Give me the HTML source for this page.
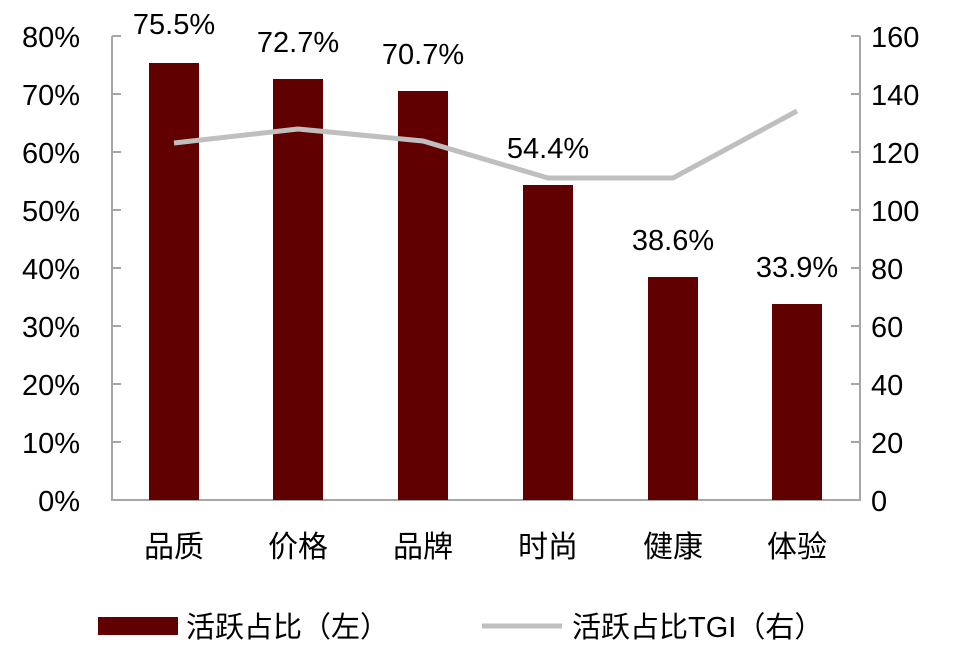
<!DOCTYPE html><html><head><meta charset="utf-8"><style>body{margin:0;background:#fff}</style></head><body>
<svg width="960" height="657" xmlns="http://www.w3.org/2000/svg" style="font-family:'Liberation Sans','Noto Sans CJK SC',sans-serif">
<g stroke="#a6a6a6" stroke-width="2" fill="none">
<path d="M112,36V500H860V36"/>
<path d="M112,36h9M112,94h9M112,152h9M112,210h9M112,268h9M112,326h9M112,384h9M112,442h9"/>
<path d="M860,36h-9M860,94h-9M860,152h-9M860,210h-9M860,268h-9M860,326h-9M860,384h-9M860,442h-9"/>
</g>
<g fill="#600000">
<rect x="149" y="63" width="50" height="437"/>
<rect x="273" y="79" width="50" height="421"/>
<rect x="398" y="91" width="50" height="409"/>
<rect x="523" y="185" width="50" height="315"/>
<rect x="648" y="277" width="50" height="223"/>
<rect x="772" y="304" width="50" height="196"/>
</g>
<polyline points="174,143 298,129 423,141 548,178 673,178 797,111" fill="none" stroke="#bfbfbf" stroke-width="5"/>
<g font-size="29" fill="#000" text-anchor="end">
<text x="80" y="47">80%</text><text x="80" y="105">70%</text><text x="80" y="163">60%</text><text x="80" y="221">50%</text><text x="80" y="279">40%</text><text x="80" y="337">30%</text><text x="80" y="395">20%</text><text x="80" y="453">10%</text><text x="80" y="511">0%</text>
</g>
<g font-size="29" fill="#000" text-anchor="start">
<text x="871" y="47">160</text><text x="871" y="105">140</text><text x="871" y="163">120</text><text x="871" y="221">100</text><text x="871" y="279">80</text><text x="871" y="337">60</text><text x="871" y="395">40</text><text x="871" y="453">20</text><text x="871" y="511">0</text>
</g>
<g font-size="29" fill="#000" text-anchor="middle">
<text x="174" y="34">75.5%</text><text x="298" y="52">72.7%</text><text x="423" y="64">70.7%</text><text x="548" y="158">54.4%</text><text x="673" y="250">38.6%</text><text x="797" y="277">33.9%</text>
</g>
<g font-size="30" fill="#000" text-anchor="middle">
<text x="174" y="557">品质</text><text x="298" y="557">价格</text><text x="423" y="557">品牌</text><text x="548" y="557">时尚</text><text x="673" y="557">健康</text><text x="797" y="557">体验</text>
</g>
<rect x="98" y="617" width="80" height="18" fill="#600000"/>
<text x="186" y="637" font-size="29">活跃占比（左）</text>
<line x1="482" y1="626" x2="562" y2="626" stroke="#bfbfbf" stroke-width="5"/>
<text x="572" y="637" font-size="29">活跃占比TGI（右）</text>
</svg>
</body></html>
